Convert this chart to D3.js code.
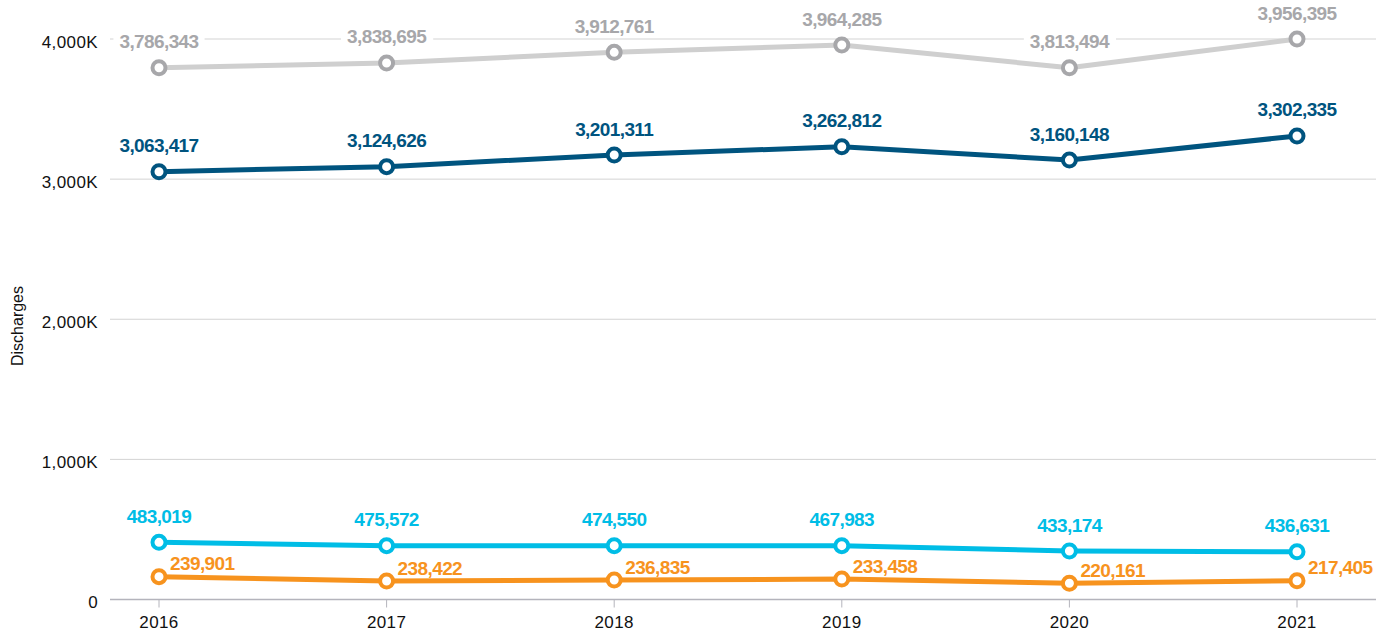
<!DOCTYPE html>
<html>
<head>
<meta charset="utf-8">
<script src="https://d3js.org/d3.v7.min.js"></script>
<style>
  body { margin: 0; background: #fff; }
  svg { display: block; font-family: "Liberation Sans", Arial, sans-serif; }
  .grid line { stroke: #d3d3d3; stroke-width: 1px; }
  .baseline { stroke: #b4b4bc; stroke-width: 1.5px; }
  .ytick { font-size: 17px; fill: #111; letter-spacing: 0.4px; }
  .xtick { font-size: 17px; fill: #111; letter-spacing: 0.4px; }
  .xtick-mark { stroke: #b4b4bc; stroke-width: 1px; }
  .vlabel { font-size: 19px; font-weight: bold; letter-spacing: -0.6px; }
  .series-line { fill: none; stroke-width: 5px; stroke-linejoin: round; }
  .marker { fill: #fff; stroke-width: 4px; }
</style>
</head>
<body>
<script>
// years on the x axis
var years = [2016, 2017, 2018, 2019, 2020, 2021];

// plotted positions
var greyValues   = [3795000, 3829000, 3905000, 3957000, 3795000, 4000000];
var navyValues   = [3053000, 3089000, 3172000, 3231000, 3136000, 3308000];
var cyanValues   = [408000, 384000, 384000, 384000, 346000, 341000];
var orangeValues = [163000, 132000, 139000, 146000, 116000, 134000];

// numbers printed next to the points
var greyLabels   = [3786343, 3838695, 3912761, 3964285, 3813494, 3956395];
var navyLabels   = [3063417, 3124626, 3201311, 3262812, 3160148, 3302335];
var cyanLabels   = [483019, 475572, 474550, 467983, 433174, 436631];
var orangeLabels = [239901, 238422, 236835, 233458, 220161, 217405];

var yTicks = [0, 1000000, 2000000, 3000000, 4000000];

var series = [
  {values: greyValues, labels: greyLabels, line: "#cfcfcf", mark: "#a7a7aa", text: "#a7a7aa", pos: "above"},
  {values: navyValues, labels: navyLabels, line: "#00547f", mark: "#00547f", text: "#00547f", pos: "above"},
  {values: cyanValues, labels: cyanLabels, line: "#00bde6", mark: "#00bde6", text: "#00bde6", pos: "above"},
  {values: orangeValues, labels: orangeLabels, line: "#f7931e", mark: "#f7931e", text: "#f7931e", pos: "right"}
];

var width = 1376, height = 637;
var plotLeft = 110, plotRight = 1376, plotTop = 39, plotBottom = 599.5;

var svg = d3.select("body").append("svg")
  .attr("width", width)
  .attr("height", height);

var x = d3.scalePoint().domain(years).range([159, 1297]);
var y = d3.scaleLinear().domain([0, 4000000]).range([plotBottom, plotTop]);

var fmt = d3.format(",");

// gridlines
var grid = svg.append("g").attr("class", "grid");
grid.selectAll("line")
  .data(yTicks.filter(function(d){ return d > 0 }))
  .enter().append("line")
  .attr("x1", plotLeft).attr("x2", plotRight)
  .attr("y1", function(d){ return y(d) }).attr("y2", function(d){ return y(d) });

svg.append("line").attr("class", "baseline")
  .attr("x1", plotLeft).attr("x2", plotRight)
  .attr("y1", y(0)).attr("y2", y(0));

// y tick labels
svg.selectAll("text.ytick")
  .data(yTicks)
  .enter().append("text")
  .attr("class", "ytick")
  .attr("x", plotLeft - 12)
  .attr("y", function(d){ return y(d) })
  .attr("dy", "0.5em")
  .attr("text-anchor", "end")
  .text(function(d){ return d === 0 ? "0" : fmt(d / 1000) + "K" });

// x ticks
var xg = svg.append("g");
xg.selectAll("line")
  .data(years)
  .enter().append("line")
  .attr("class", "xtick-mark")
  .attr("x1", function(d){ return x(d) }).attr("x2", function(d){ return x(d) })
  .attr("y1", y(0)).attr("y2", y(0) + 8);
xg.selectAll("text")
  .data(years)
  .enter().append("text")
  .attr("class", "xtick")
  .attr("x", function(d){ return x(d) })
  .attr("y", y(0) + 28)
  .attr("text-anchor", "middle")
  .text(function(d){ return d });

// axis title
svg.append("text")
  .attr("transform", "translate(23,326)rotate(-90)")
  .attr("text-anchor", "middle")
  .style("font-size", "16px")
  .style("fill", "#111")
  .text("Discharges");

// value labels (with white boxes that cut the gridlines)
var labelLayer = svg.append("g");
series.forEach(function(s){
  s.values.forEach(function(v, i){
    var g = labelLayer.append("g");
    var t = g.append("text")
      .attr("class", "vlabel")
      .style("fill", s.text)
      .text(fmt(s.labels[i]));
    if (s.pos === "above") {
      t.attr("x", x(years[i])).attr("y", y(v) - 19.5).attr("text-anchor", "middle");
    } else {
      t.attr("x", x(years[i]) + 11).attr("y", y(v) - 6.5).attr("text-anchor", "start");
    }
    var bb = t.node().getBBox();
    g.insert("rect", "text")
      .attr("x", bb.x - 6).attr("y", bb.y)
      .attr("width", bb.width + 12).attr("height", bb.height)
      .attr("fill", "#fff");
  });
});

// lines and markers
var line = d3.line()
  .x(function(d, i){ return x(years[i]) })
  .y(function(d){ return y(d) });

series.forEach(function(s){
  svg.append("path")
    .attr("class", "series-line")
    .attr("d", line(s.values))
    .style("stroke", s.line);
  svg.append("g").selectAll("circle")
    .data(s.values)
    .enter().append("circle")
    .attr("class", "marker")
    .attr("cx", function(d, i){ return x(years[i]) })
    .attr("cy", function(d){ return y(d) })
    .attr("r", 6.5)
    .style("stroke", s.mark);
});
</script>
</body>
</html>
